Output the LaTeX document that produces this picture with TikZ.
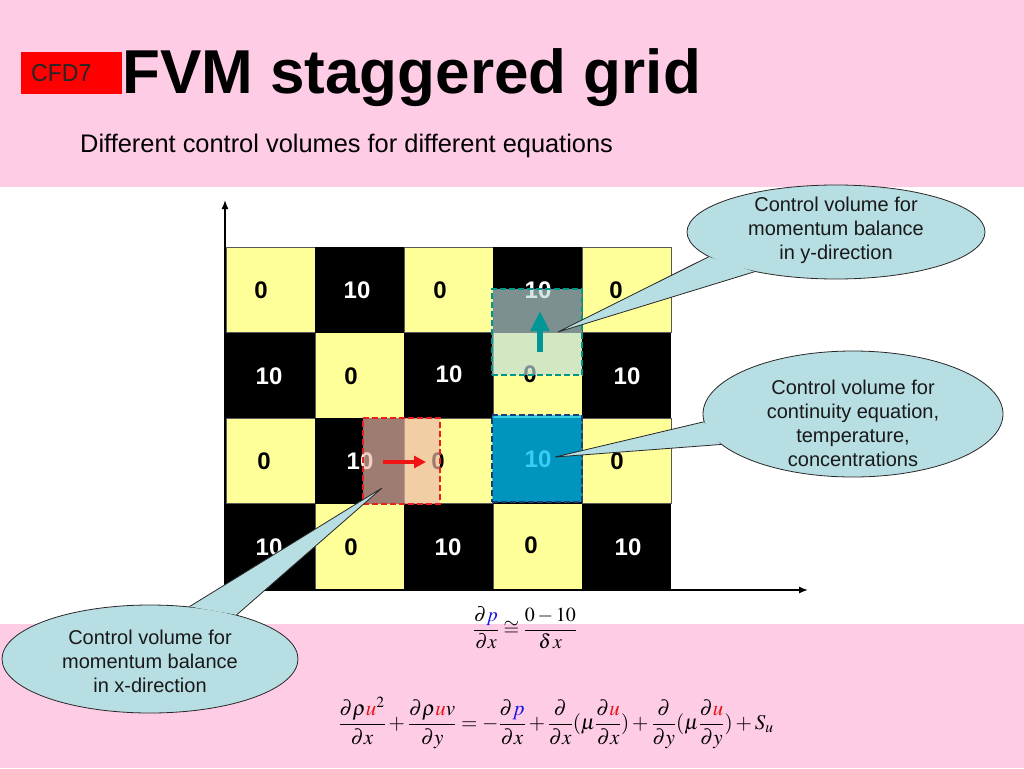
\documentclass[tikz,border=0pt]{standalone}
\usepackage{mathptmx}
\usepackage[no-math]{fontspec}
\usepackage{graphicx}
\setmainfont{Liberation Sans}
\usetikzlibrary{shapes.geometric,arrows.meta}
\definecolor{pinkbg}{RGB}{255,204,230}
\definecolor{cellyellow}{RGB}{255,255,153}
\definecolor{bubblefill}{RGB}{183,222,226}
\definecolor{bubbleline}{RGB}{40,40,40}
\definecolor{cfdred}{RGB}{255,0,0}
\definecolor{ovyfill}{RGB}{189,220,218}
\definecolor{ovyline}{RGB}{0,150,140}
\definecolor{ovxfill}{RGB}{235,184,169}
\definecolor{ovxline}{RGB}{235,30,30}
\definecolor{ovcfill}{RGB}{0,192,244}
\definecolor{ovcline}{RGB}{30,60,120}
\definecolor{tealarr}{RGB}{0,150,150}
\definecolor{redarr}{RGB}{240,20,20}
\definecolor{pblue}{RGB}{20,20,230}
\definecolor{ured}{RGB}{230,20,20}
\begin{document}
\begin{tikzpicture}[x=1pt,y=-1pt,
  ycell/.style={fill=cellyellow,draw=black!65,line width=0.8pt},
  bcell/.style={fill=black},
  val/.style={font=\fontsize{24}{26}\selectfont\bfseries,inner sep=0pt},
  bubble/.style={ellipse,fill=bubblefill,draw=bubbleline,line width=0.8pt,inner sep=0pt},
  bubtext/.style={align=center,font=\fontsize{20}{24}\selectfont,text=black!90},
  pointer/.style={draw=bubbleline,line width=0.8pt},
  ovbox/.style={rectangle,inner sep=0pt,line width=1.4pt,dash pattern=on 6pt off 3pt},
  axis/.style={line width=1.4pt,-{Latex[length=9pt,width=7pt]}},
]
\useasboundingbox (0,0) rectangle (1024,768);
% backgrounds
\fill[pinkbg] (0,0) rectangle (1024,187);
\fill[pinkbg] (0,624) rectangle (1024,768);

% title
\node[fill=cfdred,anchor=west,minimum height=41pt,text width=81pt,inner xsep=10pt,inner ysep=0pt,
  align=left,font=\fontsize{24.5}{26}\selectfont,text=black!85] (cfd) at (21,73) {\scalebox{0.94}[1]{CFD7}};
\node[anchor=base west,inner sep=0pt,font=\fontsize{62}{70}\selectfont\bfseries] (title) at (122,93) {FVM staggered grid};
\node[anchor=base west,inner sep=0pt,font=\fontsize{25.4}{28}\selectfont] (sub) at (80,152) {Different control volumes for different equations};

% cells
\foreach \c/\r in {0/0,2/0,4/0,1/1,3/1,0/2,2/2,4/2,1/3,3/3}
  \draw[ycell] (226+89*\c,247+85.5*\r) rectangle ++(89,85.5);
\foreach \c/\r in {1/0,3/0,0/1,2/1,4/1,1/2,3/2,0/3,2/3,4/3}
  \fill[bcell] (226+89*\c,247+85.5*\r) rectangle ++(89,85.5);

% values
\foreach \x/\y/\v/\col [count=\i] in {
  261/290/0/black, 357/290/10/white, 440/290/0/black, 538/290/10/white, 616/290/0/black,
  269/376/10/white, 351/376/0/black, 449/374/10/white, 530/374/0/black, 627/376/10/white,
  264/461/0/black, 360/461/10/white, 438/461/0/black, 538/459/10/white, 617/461/0/black,
  269/547/10/white, 351/547/0/black, 448/547/10/white, 531/545/0/black, 628/547/10/white}
  \node[val,text=\col] (v\i) at (\x,\y) {\v};

% axes
\coordinate (O) at (225,590);
\coordinate (Ytop) at (225,200);
\coordinate (Xend) at (808,590);
\draw[axis] (O) -- (Ytop);
\draw[axis] (O) -- (Xend);

% control volumes
\node[ovbox,fill=ovyfill,fill opacity=0.66,draw=ovyline,minimum width=90pt,minimum height=86pt] (cvy) at (537,332) {};
\node[ovbox,fill=ovxfill,fill opacity=0.68,draw=ovxline,minimum width=77pt,minimum height=86pt] (cvx) at (401.5,461) {};
\node[ovbox,fill=ovcfill,fill opacity=0.78,draw=ovcline,minimum width=90pt,minimum height=87pt] (cvc) at (537,458.5) {};

% velocity arrows
\coordinate (ty0) at (540,352);
\coordinate (ty1) at (540,311);
\draw[tealarr,line width=6pt,-{Triangle[length=20pt,width=18pt]}] (ty0) -- (ty1);
\coordinate (tx0) at (383,462);
\coordinate (tx1) at (426,462);
\draw[redarr,line width=3.2pt,-{Triangle[length=12pt,width=12pt]}] (tx0) -- (tx1);

% callouts
\node[bubble,minimum width=298pt,minimum height=94pt] (c1) at (836,232) {};
\coordinate (t1) at (558,332);
\fill[bubblefill] (c1.191) -- (t1) -- (c1.206) -- cycle;
\draw[pointer] (c1.191) -- (t1) -- (c1.206);
\node[bubtext] (c1t) at (836,230) {Control volume for\\momentum balance\\in y-direction};

\node[bubble,minimum width=300pt,minimum height=126pt] (c2) at (853,414) {};
\coordinate (t2) at (555,457);
\fill[bubblefill] (c2.183.5) -- (t2) -- (c2.193.3) -- cycle;
\draw[pointer] (c2.183.5) -- (t2) -- (c2.193.3);
\node[bubtext] (c2t) at (853,423) {Control volume for\\continuity equation,\\temperature,\\concentrations};

\node[bubble,minimum width=296pt,minimum height=108pt] (c3) at (150,659) {};
\coordinate (t3) at (382,488);
\fill[bubblefill] (c3.53) -- (t3) -- (c3.27) -- cycle;
\draw[pointer] (c3.53) -- (t3) -- (c3.27);
\node[bubtext] (c3t) at (150,661) {Control volume for\\momentum balance\\in x-direction};

% formulas
\node[font=\fontsize{20}{24}\selectfont] (f1) at (525,628)
  {$\displaystyle \frac{\partial \textcolor{pblue}{p}}{\partial x}\cong\frac{0-10}{\delta\, x}$};
\node[font=\fontsize{21}{25}\selectfont] (f2) at (556,723)
  {$\displaystyle \frac{\partial\rho \textcolor{ured}{u}^2}{\partial x}+\frac{\partial\rho\textcolor{ured}{u}v}{\partial y}=-\frac{\partial\textcolor{pblue}{p}}{\partial x}+\frac{\partial}{\partial x}(\mu\frac{\partial \textcolor{ured}{u}}{\partial x})+\frac{\partial}{\partial y}(\mu\frac{\partial\textcolor{ured}{u}}{\partial y})+S_u$};
\end{tikzpicture}
\end{document}
